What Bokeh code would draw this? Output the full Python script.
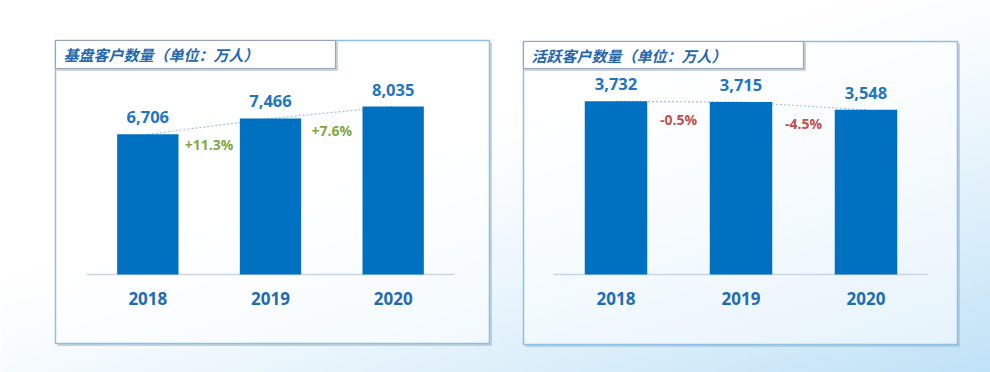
import numpy as np
from bokeh.plotting import figure
from bokeh.models import Range1d, ColumnDataSource
from bokeh.core.properties import value
from bokeh.embed import file_html
from bokeh.resources import INLINE

# ---------------- data ----------------
years = ["2018", "2019", "2020"]
base_customers = [6706, 7466, 8035]
active_customers = [3732, 3715, 3548]
base_growth = ["+11.3%", "+7.6%"]
active_growth = ["-0.5%", "-4.5%"]
titles = ["基盘客户数量（单位：万人）", "活跃客户数量（单位：万人）"]

# ---------------- layout (page pixels) ----------------
PAGE_W, PAGE_H = 990, 372
M = 0
W, H = PAGE_W - 2 * M, PAGE_H - 2 * M


def Y(py):
    return PAGE_H - py


p = figure(width=W, height=H, output_backend="svg", toolbar_location=None,
           x_range=Range1d(M, M + W), y_range=Range1d(Y(M + H), Y(M)),
           x_axis_type=None, y_axis_type=None, min_border=0)
p.grid.visible = False
p.outline_line_color = None
p.background_fill_color = "white"
p.border_fill_color = "white"

# background gradient (decoration)
nx, ny = 248, 93
xn = np.linspace(M / PAGE_W, (M + W) / PAGE_W, nx)[None, :]
yn = 1 - np.linspace(M / PAGE_H, (M + H) / PAGE_H, ny)[:, None]  # row 0 = bottom
f = np.clip((0.7 * xn + 0.8 * yn - 0.6) / 0.9, 0, 1) ** 1.3
c0 = np.array([255, 255, 255])
c1 = np.array([192, 226, 247])
img = np.zeros((ny, nx, 4), dtype=np.uint8)
for k in range(3):
    img[:, :, k] = (c0[k] + (c1[k] - c0[k]) * f).astype(np.uint8)
img[:, :, 3] = 255
p.image_rgba(image=[img.view(np.uint32).reshape(ny, nx)], x=M, y=Y(M + H), dw=W, dh=H)

FONT = value("Open Sans")
CJK = value("Noto Sans CJK SC")

panels = [
    dict(box=(55, 489, 40, 343), tbox=(55, 335, 40, 68), tpos=(63, 54),
         base=(86, 454, 274), k=47.85, vals=base_customers, growth=base_growth,
         gcolor="#7FA843", title=titles[0], name="l"),
    dict(box=(523, 957, 41, 344), tbox=(523, 803, 41, 68), tpos=(531, 55),
         base=(553, 928, 274), k=21.55, vals=active_customers, growth=active_growth,
         gcolor="#C0504D", title=titles[1], name="r"),
]

for pn in panels:
    l, r, t, b = pn["box"]
    # shadow lines
    p.segment(x0=[l + 2, r + 1.5], y0=[Y(b + 1.5), Y(t + 2)], x1=[r + 1.5, r + 1.5], y1=[Y(b + 1.5), Y(b + 1.5)],
              line_color="#9fbcd6", line_width=2, line_alpha=0.6)
    p.quad(left=[l], right=[r], top=[Y(t)], bottom=[Y(b)], fill_color="white", fill_alpha=0.55,
           line_color="#8fbfe2", line_width=1.5)
    tl, tr, tt, tb = pn["tbox"]
    p.segment(x0=[tl + 1, tr + 1.5], y0=[Y(tb + 1.5), Y(tt + 1)], x1=[tr + 1.5, tr + 1.5], y1=[Y(tb + 1.5), Y(tb + 1.5)],
              line_color="#8c9bb0", line_width=1.5, line_alpha=0.6)
    p.quad(left=[tl], right=[tr], top=[Y(tt)], bottom=[Y(tb)], fill_color="white", fill_alpha=1.0,
           line_color="#95a6ba", line_width=1.2)
    p.text(x=[pn["tpos"][0]], y=[Y(pn["tpos"][1])], text=[pn["title"]], text_font=CJK,
           text_font_size="15px", text_font_style="bold italic", text_color="#2467B0",
           text_align="left", text_baseline="middle")

    # scales for the data of this panel
    x0p, x3p, basep = pn["base"]
    s = (x3p - x0p) / 3.0
    kk = pn["k"]
    xr, yr = pn["name"] + "x", pn["name"] + "y"
    p.extra_x_ranges[xr] = Range1d((M - x0p) / s, (M + W - x0p) / s)
    p.extra_y_ranges[yr] = Range1d(-(M + H - basep) * kk, (basep - M) * kk)

    vals = pn["vals"]
    src = ColumnDataSource(dict(x=[i + 0.5 for i in range(len(years))], top=vals,
                                label=[f"{v:,}" for v in vals], year=years,
                                zero=[0] * len(years)))
    kw = dict(x_range_name=xr, y_range_name=yr)
    p.line(x="x", y="top", source=src, line_color="#9dc3e6", line_dash="2 2", line_width=1.2, **kw)
    p.segment(x0=[0], x1=[len(years)], y0=[0], y1=[0], line_color="#c9d5e4", line_width=1.6, **kw)
    p.vbar(x="x", top="top", bottom=0, width=0.5, source=src, fill_color="#0070C0", line_color=None, **kw)
    p.text(x="x", y="top", text="label", source=src, text_font=FONT, text_font_size="16.5px",
           text_font_style="bold", text_color="#1E75C2", text_align="center", text_baseline="middle",
           y_offset=-17, **kw)
    p.text(x="x", y="zero", text="year", source=src, text_font=FONT, text_font_size="17px",
           text_font_style="bold", text_color="#1F6CB5", text_align="center", text_baseline="middle",
           y_offset=24, **kw)
    gx = [i + 1 for i in range(len(vals) - 1)]
    gy = [(vals[i] + vals[i + 1]) / 2 for i in range(len(vals) - 1)]
    p.text(x=gx, y=gy, text=pn["growth"], text_font=FONT, text_font_size="14px",
           text_font_style="bold", text_color=pn["gcolor"], text_align="center", text_baseline="middle",
           y_offset=18, **kw)

open("out.html", "w").write(file_html(p, INLINE))
